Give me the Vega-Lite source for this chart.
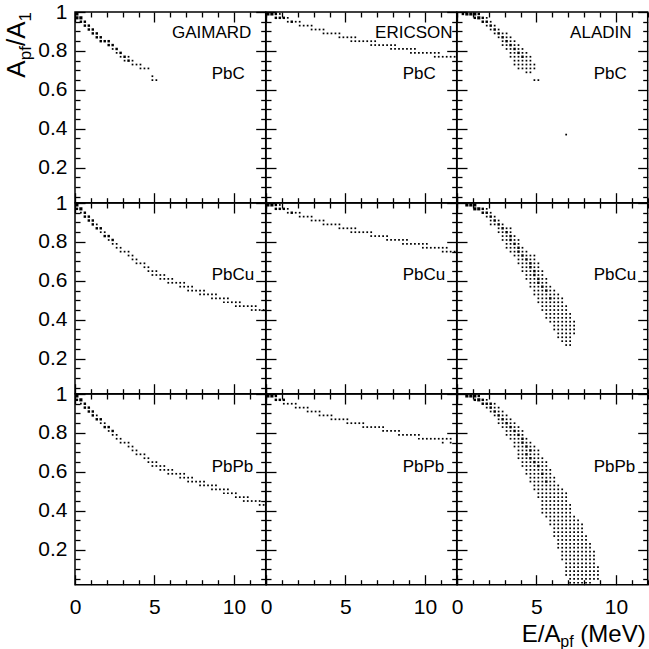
{
"$schema":"https://vega.github.io/schema/vega-lite/v6.json",
"padding":{"left":3,"top":0,"right":0,"bottom":0},
"background":"white",
"bounds":"flush",
"spacing":0,
"columns":3,
"config":{"view":{"stroke":"black","strokeWidth":1.5},"axis":{"domain":false,"grid":false,"tickColor":"black","tickWidth":1.3,"tickSize":0,"labelFont":"Liberation Sans","labelFontSize":21,"labelColor":"black","labelOverlap":false,"labelFlush":false}},
"datasets":{
"gC":[{"E":0.12,"A":0.99,"w":3},{"E":0.12,"A":0.97,"w":3},{"E":0.37,"A":0.97,"w":3},{"E":0.37,"A":0.95,"w":2},{"E":0.62,"A":0.95,"w":2},{"E":0.62,"A":0.93,"w":2},{"E":0.87,"A":0.93,"w":2},{"E":0.87,"A":0.91,"w":2},{"E":1.12,"A":0.91,"w":2},{"E":1.12,"A":0.89,"w":2},{"E":1.37,"A":0.89,"w":2},{"E":1.37,"A":0.87,"w":2},{"E":1.62,"A":0.87,"w":2},{"E":1.62,"A":0.85,"w":2},{"E":1.87,"A":0.85,"w":2},{"E":2.12,"A":0.85,"w":2},{"E":2.12,"A":0.83,"w":2},{"E":2.37,"A":0.83,"w":2},{"E":2.37,"A":0.81},{"E":2.62,"A":0.81,"w":2},{"E":2.62,"A":0.79},{"E":2.87,"A":0.79,"w":2},{"E":2.87,"A":0.77},{"E":3.12,"A":0.77,"w":2},{"E":3.12,"A":0.75},{"E":3.37,"A":0.77},{"E":3.37,"A":0.75,"w":2},{"E":3.62,"A":0.75},{"E":3.62,"A":0.73},{"E":3.87,"A":0.73},{"E":4.12,"A":0.73},{"E":4.12,"A":0.71},{"E":4.37,"A":0.71},{"E":4.62,"A":0.71},{"E":4.87,"A":0.67},{"E":4.87,"A":0.65},{"E":5.12,"A":0.65}],
"gCu":[{"E":0.12,"A":0.99,"w":3},{"E":0.12,"A":0.97,"w":2},{"E":0.37,"A":0.97,"w":3},{"E":0.37,"A":0.95},{"E":0.62,"A":0.95,"w":2},{"E":0.62,"A":0.93,"w":2},{"E":0.87,"A":0.93,"w":2},{"E":0.87,"A":0.91,"w":2},{"E":1.12,"A":0.91,"w":2},{"E":1.12,"A":0.89,"w":2},{"E":1.37,"A":0.89},{"E":1.37,"A":0.87,"w":2},{"E":1.62,"A":0.87,"w":2},{"E":1.62,"A":0.85},{"E":1.87,"A":0.85},{"E":1.87,"A":0.83,"w":2},{"E":2.12,"A":0.83,"w":2},{"E":2.12,"A":0.81},{"E":2.37,"A":0.81,"w":2},{"E":2.37,"A":0.79},{"E":2.62,"A":0.79},{"E":2.62,"A":0.77},{"E":2.87,"A":0.77},{"E":2.87,"A":0.75},{"E":3.12,"A":0.75},{"E":3.37,"A":0.75},{"E":3.37,"A":0.73},{"E":3.62,"A":0.73},{"E":3.62,"A":0.71},{"E":3.87,"A":0.71},{"E":3.87,"A":0.69},{"E":4.12,"A":0.69},{"E":4.37,"A":0.69},{"E":4.37,"A":0.67},{"E":4.62,"A":0.67},{"E":4.62,"A":0.65},{"E":4.87,"A":0.65},{"E":4.87,"A":0.63},{"E":5.12,"A":0.65},{"E":5.12,"A":0.63},{"E":5.37,"A":0.63},{"E":5.37,"A":0.61},{"E":5.62,"A":0.63},{"E":5.62,"A":0.61},{"E":5.87,"A":0.61},{"E":5.87,"A":0.59},{"E":6.12,"A":0.61},{"E":6.12,"A":0.59},{"E":6.37,"A":0.59},{"E":6.62,"A":0.59},{"E":6.62,"A":0.57},{"E":6.87,"A":0.59},{"E":6.87,"A":0.57},{"E":7.12,"A":0.57},{"E":7.12,"A":0.55},{"E":7.37,"A":0.57},{"E":7.37,"A":0.55},{"E":7.62,"A":0.55},{"E":7.87,"A":0.55},{"E":7.87,"A":0.53},{"E":8.12,"A":0.55},{"E":8.12,"A":0.53},{"E":8.37,"A":0.53},{"E":8.62,"A":0.53},{"E":8.62,"A":0.51},{"E":8.87,"A":0.53},{"E":8.87,"A":0.51},{"E":9.12,"A":0.51},{"E":9.37,"A":0.51},{"E":9.37,"A":0.49},{"E":9.62,"A":0.51},{"E":9.62,"A":0.49},{"E":9.87,"A":0.49},{"E":10.12,"A":0.49},{"E":10.12,"A":0.47},{"E":10.37,"A":0.49},{"E":10.37,"A":0.47},{"E":10.62,"A":0.47},{"E":10.87,"A":0.47},{"E":11.12,"A":0.47},{"E":11.12,"A":0.45},{"E":11.37,"A":0.47},{"E":11.37,"A":0.45},{"E":11.62,"A":0.45},{"E":11.87,"A":0.45}],
"gPb":[{"E":0.12,"A":0.99,"w":3},{"E":0.12,"A":0.97,"w":2},{"E":0.37,"A":0.97,"w":3},{"E":0.37,"A":0.95},{"E":0.62,"A":0.95,"w":2},{"E":0.62,"A":0.93,"w":2},{"E":0.87,"A":0.93,"w":2},{"E":0.87,"A":0.91,"w":2},{"E":1.12,"A":0.91,"w":2},{"E":1.12,"A":0.89,"w":2},{"E":1.37,"A":0.89},{"E":1.37,"A":0.87,"w":2},{"E":1.62,"A":0.87,"w":2},{"E":1.62,"A":0.85},{"E":1.87,"A":0.85},{"E":1.87,"A":0.83,"w":2},{"E":2.12,"A":0.83,"w":2},{"E":2.12,"A":0.81},{"E":2.37,"A":0.81,"w":2},{"E":2.37,"A":0.79},{"E":2.62,"A":0.79},{"E":2.62,"A":0.77},{"E":2.87,"A":0.77},{"E":2.87,"A":0.75},{"E":3.12,"A":0.75},{"E":3.37,"A":0.75},{"E":3.37,"A":0.73},{"E":3.62,"A":0.73},{"E":3.62,"A":0.71},{"E":3.87,"A":0.71},{"E":3.87,"A":0.69},{"E":4.12,"A":0.69},{"E":4.37,"A":0.69},{"E":4.37,"A":0.67},{"E":4.62,"A":0.67},{"E":4.62,"A":0.65},{"E":4.87,"A":0.65},{"E":4.87,"A":0.63},{"E":5.12,"A":0.65},{"E":5.12,"A":0.63},{"E":5.37,"A":0.63},{"E":5.37,"A":0.61},{"E":5.62,"A":0.63},{"E":5.62,"A":0.61},{"E":5.87,"A":0.61},{"E":5.87,"A":0.59},{"E":6.12,"A":0.61},{"E":6.12,"A":0.59},{"E":6.37,"A":0.59},{"E":6.62,"A":0.59},{"E":6.62,"A":0.57},{"E":6.87,"A":0.59},{"E":6.87,"A":0.57},{"E":7.12,"A":0.57},{"E":7.12,"A":0.55},{"E":7.37,"A":0.57},{"E":7.37,"A":0.55},{"E":7.62,"A":0.55},{"E":7.87,"A":0.55},{"E":7.87,"A":0.53},{"E":8.12,"A":0.55},{"E":8.12,"A":0.53},{"E":8.37,"A":0.53},{"E":8.62,"A":0.53},{"E":8.62,"A":0.51},{"E":8.87,"A":0.53},{"E":8.87,"A":0.51},{"E":9.12,"A":0.51},{"E":9.37,"A":0.51},{"E":9.37,"A":0.49},{"E":9.62,"A":0.51},{"E":9.62,"A":0.49},{"E":9.87,"A":0.49},{"E":10.12,"A":0.49},{"E":10.12,"A":0.47},{"E":10.37,"A":0.47},{"E":10.62,"A":0.47},{"E":10.62,"A":0.45},{"E":10.87,"A":0.47},{"E":10.87,"A":0.45},{"E":11.12,"A":0.45},{"E":11.37,"A":0.45},{"E":11.62,"A":0.45},{"E":11.62,"A":0.43},{"E":11.87,"A":0.43}],
"eC":[{"E":0.12,"A":0.99,"w":3},{"E":0.37,"A":0.99,"w":3},{"E":0.62,"A":0.99,"w":2},{"E":0.62,"A":0.97,"w":2},{"E":0.87,"A":0.99},{"E":0.87,"A":0.97,"w":2},{"E":1.12,"A":0.97,"w":2},{"E":1.37,"A":0.97},{"E":1.37,"A":0.95},{"E":1.62,"A":0.95,"w":2},{"E":1.87,"A":0.95},{"E":2.12,"A":0.95},{"E":2.12,"A":0.93},{"E":2.37,"A":0.93},{"E":2.62,"A":0.93},{"E":2.87,"A":0.93},{"E":2.87,"A":0.91},{"E":3.12,"A":0.91},{"E":3.37,"A":0.91},{"E":3.62,"A":0.91},{"E":3.62,"A":0.89},{"E":3.87,"A":0.89},{"E":4.12,"A":0.89},{"E":4.37,"A":0.89},{"E":4.62,"A":0.89},{"E":4.62,"A":0.87},{"E":4.87,"A":0.87},{"E":5.12,"A":0.87},{"E":5.37,"A":0.87},{"E":5.37,"A":0.85},{"E":5.62,"A":0.87},{"E":5.62,"A":0.85},{"E":5.87,"A":0.85},{"E":6.12,"A":0.85},{"E":6.37,"A":0.85},{"E":6.62,"A":0.85},{"E":6.62,"A":0.83},{"E":6.87,"A":0.85},{"E":6.87,"A":0.83},{"E":7.12,"A":0.83},{"E":7.37,"A":0.83},{"E":7.62,"A":0.83},{"E":7.87,"A":0.83},{"E":7.87,"A":0.81},{"E":8.12,"A":0.83},{"E":8.12,"A":0.81},{"E":8.37,"A":0.81},{"E":8.62,"A":0.81},{"E":8.87,"A":0.81},{"E":9.12,"A":0.81},{"E":9.12,"A":0.79},{"E":9.37,"A":0.81},{"E":9.37,"A":0.79},{"E":9.62,"A":0.79},{"E":9.87,"A":0.79},{"E":10.12,"A":0.79},{"E":10.37,"A":0.79},{"E":10.62,"A":0.79},{"E":10.62,"A":0.77},{"E":10.87,"A":0.79},{"E":10.87,"A":0.77},{"E":11.12,"A":0.77},{"E":11.37,"A":0.77},{"E":11.62,"A":0.77},{"E":11.87,"A":0.77}],
"eCu":[{"E":0.12,"A":0.99,"w":3},{"E":0.37,"A":0.99,"w":3},{"E":0.62,"A":0.99,"w":2},{"E":0.62,"A":0.97,"w":2},{"E":0.87,"A":0.99},{"E":0.87,"A":0.97,"w":2},{"E":1.12,"A":0.97,"w":2},{"E":1.37,"A":0.97},{"E":1.37,"A":0.95},{"E":1.62,"A":0.95,"w":2},{"E":1.87,"A":0.95},{"E":2.12,"A":0.95},{"E":2.12,"A":0.93},{"E":2.37,"A":0.93},{"E":2.62,"A":0.93},{"E":2.87,"A":0.93},{"E":2.87,"A":0.91},{"E":3.12,"A":0.91},{"E":3.37,"A":0.91},{"E":3.62,"A":0.91},{"E":3.62,"A":0.89},{"E":3.87,"A":0.89},{"E":4.12,"A":0.89},{"E":4.37,"A":0.89},{"E":4.62,"A":0.89},{"E":4.62,"A":0.87},{"E":4.87,"A":0.87},{"E":5.12,"A":0.87},{"E":5.37,"A":0.87},{"E":5.37,"A":0.85},{"E":5.62,"A":0.87},{"E":5.62,"A":0.85},{"E":5.87,"A":0.85},{"E":6.12,"A":0.85},{"E":6.37,"A":0.85},{"E":6.62,"A":0.85},{"E":6.62,"A":0.83},{"E":6.87,"A":0.83},{"E":7.12,"A":0.83},{"E":7.37,"A":0.83},{"E":7.62,"A":0.83},{"E":7.62,"A":0.81},{"E":7.87,"A":0.81},{"E":8.12,"A":0.81},{"E":8.37,"A":0.81},{"E":8.62,"A":0.81},{"E":8.62,"A":0.79},{"E":8.87,"A":0.81},{"E":8.87,"A":0.79},{"E":9.12,"A":0.79},{"E":9.37,"A":0.79},{"E":9.62,"A":0.79},{"E":9.87,"A":0.79},{"E":9.87,"A":0.77},{"E":10.12,"A":0.79},{"E":10.12,"A":0.77},{"E":10.37,"A":0.77},{"E":10.62,"A":0.77},{"E":10.87,"A":0.77},{"E":11.12,"A":0.77},{"E":11.12,"A":0.75},{"E":11.37,"A":0.77},{"E":11.37,"A":0.75},{"E":11.62,"A":0.75},{"E":11.87,"A":0.75}],
"ePb":[{"E":0.12,"A":0.99,"w":3},{"E":0.37,"A":0.99,"w":3},{"E":0.62,"A":0.99,"w":2},{"E":0.62,"A":0.97,"w":2},{"E":0.87,"A":0.97,"w":2},{"E":1.12,"A":0.97,"w":2},{"E":1.12,"A":0.95},{"E":1.37,"A":0.95},{"E":1.62,"A":0.95},{"E":1.87,"A":0.95},{"E":1.87,"A":0.93},{"E":2.12,"A":0.93},{"E":2.37,"A":0.93},{"E":2.62,"A":0.93},{"E":2.62,"A":0.91},{"E":2.87,"A":0.91},{"E":3.12,"A":0.91},{"E":3.37,"A":0.91},{"E":3.37,"A":0.89},{"E":3.62,"A":0.89},{"E":3.87,"A":0.89},{"E":4.12,"A":0.89},{"E":4.12,"A":0.87},{"E":4.37,"A":0.87},{"E":4.62,"A":0.87},{"E":4.87,"A":0.87},{"E":5.12,"A":0.87},{"E":5.12,"A":0.85},{"E":5.37,"A":0.85},{"E":5.62,"A":0.85},{"E":5.87,"A":0.85},{"E":6.12,"A":0.85},{"E":6.12,"A":0.83},{"E":6.37,"A":0.83},{"E":6.62,"A":0.83},{"E":6.87,"A":0.83},{"E":7.12,"A":0.83},{"E":7.37,"A":0.83},{"E":7.37,"A":0.81},{"E":7.62,"A":0.81},{"E":7.87,"A":0.81},{"E":8.12,"A":0.81},{"E":8.37,"A":0.81},{"E":8.37,"A":0.79},{"E":8.62,"A":0.79},{"E":8.87,"A":0.79},{"E":9.12,"A":0.79},{"E":9.37,"A":0.79},{"E":9.62,"A":0.79},{"E":9.62,"A":0.77},{"E":9.87,"A":0.77},{"E":10.12,"A":0.77},{"E":10.37,"A":0.77},{"E":10.62,"A":0.77},{"E":10.87,"A":0.77},{"E":11.12,"A":0.77},{"E":11.12,"A":0.75},{"E":11.37,"A":0.77},{"E":11.62,"A":0.77},{"E":11.62,"A":0.75}],
"aC":[{"E":0.37,"A":0.99,"w":2},{"E":0.62,"A":0.99,"w":3},{"E":0.87,"A":0.99,"w":3},{"E":1.12,"A":0.99,"w":3},{"E":1.37,"A":0.99,"w":2},{"E":1.12,"A":0.97,"w":2},{"E":1.37,"A":0.97,"w":3},{"E":1.62,"A":0.97,"w":2},{"E":1.87,"A":0.97},{"E":1.62,"A":0.95,"w":2},{"E":1.87,"A":0.95,"w":2},{"E":2.12,"A":0.95},{"E":1.87,"A":0.93},{"E":2.12,"A":0.93,"w":2},{"E":2.37,"A":0.93},{"E":2.12,"A":0.91},{"E":2.37,"A":0.91,"w":2},{"E":2.62,"A":0.91},{"E":2.37,"A":0.89},{"E":2.62,"A":0.89,"w":2},{"E":2.87,"A":0.89},{"E":3.12,"A":0.89},{"E":2.62,"A":0.87},{"E":2.87,"A":0.87,"w":2},{"E":3.12,"A":0.87},{"E":3.37,"A":0.87},{"E":2.87,"A":0.85},{"E":3.12,"A":0.85,"w":2},{"E":3.37,"A":0.85},{"E":3.62,"A":0.85},{"E":2.87,"A":0.83},{"E":3.12,"A":0.83},{"E":3.37,"A":0.83,"w":2},{"E":3.62,"A":0.83},{"E":3.87,"A":0.83},{"E":3.12,"A":0.81},{"E":3.37,"A":0.81},{"E":3.62,"A":0.81,"w":2},{"E":3.87,"A":0.81},{"E":4.12,"A":0.81},{"E":3.37,"A":0.79},{"E":3.62,"A":0.79},{"E":3.87,"A":0.79,"w":2},{"E":4.12,"A":0.79},{"E":4.37,"A":0.79},{"E":3.37,"A":0.77},{"E":3.62,"A":0.77},{"E":3.87,"A":0.77},{"E":4.12,"A":0.77,"w":2},{"E":4.37,"A":0.77},{"E":4.62,"A":0.77},{"E":3.62,"A":0.75},{"E":3.87,"A":0.75},{"E":4.12,"A":0.75},{"E":4.37,"A":0.75},{"E":4.62,"A":0.75},{"E":3.62,"A":0.73},{"E":3.87,"A":0.73},{"E":4.12,"A":0.73},{"E":4.37,"A":0.73},{"E":4.62,"A":0.73},{"E":4.87,"A":0.73},{"E":3.87,"A":0.71},{"E":4.12,"A":0.71},{"E":4.37,"A":0.71},{"E":4.62,"A":0.71},{"E":4.87,"A":0.71},{"E":4.37,"A":0.69},{"E":4.62,"A":0.69},{"E":4.87,"A":0.65},{"E":5.12,"A":0.65},{"E":6.87,"A":0.37}],
"aCu":[{"E":0.62,"A":0.99,"w":3},{"E":0.87,"A":0.99,"w":3},{"E":1.12,"A":0.99,"w":3},{"E":1.12,"A":0.97,"w":3},{"E":1.37,"A":0.97,"w":3},{"E":1.62,"A":0.97,"w":2},{"E":1.87,"A":0.97},{"E":1.62,"A":0.95,"w":2},{"E":1.87,"A":0.95,"w":2},{"E":2.12,"A":0.95},{"E":1.87,"A":0.93},{"E":2.12,"A":0.93,"w":2},{"E":2.37,"A":0.93},{"E":2.12,"A":0.91},{"E":2.37,"A":0.91,"w":2},{"E":2.62,"A":0.91},{"E":2.12,"A":0.89},{"E":2.37,"A":0.89},{"E":2.62,"A":0.89,"w":2},{"E":2.87,"A":0.89},{"E":2.62,"A":0.87},{"E":2.87,"A":0.87,"w":2},{"E":3.12,"A":0.87},{"E":3.37,"A":0.87},{"E":2.62,"A":0.85},{"E":2.87,"A":0.85},{"E":3.12,"A":0.85,"w":2},{"E":3.37,"A":0.85},{"E":2.87,"A":0.83},{"E":3.12,"A":0.83},{"E":3.37,"A":0.83,"w":2},{"E":3.62,"A":0.83},{"E":2.87,"A":0.81},{"E":3.12,"A":0.81},{"E":3.37,"A":0.81,"w":2},{"E":3.62,"A":0.81},{"E":3.87,"A":0.81},{"E":3.12,"A":0.79},{"E":3.37,"A":0.79},{"E":3.62,"A":0.79,"w":2},{"E":3.87,"A":0.79},{"E":3.12,"A":0.77},{"E":3.37,"A":0.77},{"E":3.62,"A":0.77},{"E":3.87,"A":0.77,"w":2},{"E":4.12,"A":0.77},{"E":3.37,"A":0.75},{"E":3.62,"A":0.75},{"E":3.87,"A":0.75,"w":2},{"E":4.12,"A":0.75},{"E":4.37,"A":0.75},{"E":3.62,"A":0.73},{"E":3.87,"A":0.73},{"E":4.12,"A":0.73,"w":2},{"E":4.37,"A":0.73},{"E":4.62,"A":0.73},{"E":4.87,"A":0.73},{"E":3.87,"A":0.71},{"E":4.12,"A":0.71},{"E":4.37,"A":0.71,"w":2},{"E":4.62,"A":0.71},{"E":4.87,"A":0.71},{"E":3.87,"A":0.69},{"E":4.12,"A":0.69},{"E":4.37,"A":0.69},{"E":4.62,"A":0.69,"w":2},{"E":4.87,"A":0.69},{"E":5.12,"A":0.69},{"E":4.12,"A":0.67},{"E":4.37,"A":0.67},{"E":4.62,"A":0.67,"w":2},{"E":4.87,"A":0.67},{"E":5.12,"A":0.67},{"E":4.12,"A":0.65},{"E":4.37,"A":0.65},{"E":4.62,"A":0.65},{"E":4.87,"A":0.65,"w":2},{"E":5.12,"A":0.65},{"E":5.37,"A":0.65},{"E":4.37,"A":0.63},{"E":4.62,"A":0.63},{"E":4.87,"A":0.63,"w":2},{"E":5.12,"A":0.63},{"E":5.37,"A":0.63},{"E":4.37,"A":0.61},{"E":4.62,"A":0.61},{"E":4.87,"A":0.61},{"E":5.12,"A":0.61,"w":2},{"E":5.37,"A":0.61},{"E":5.62,"A":0.61},{"E":4.62,"A":0.59},{"E":4.87,"A":0.59},{"E":5.12,"A":0.59,"w":2},{"E":5.37,"A":0.59},{"E":5.62,"A":0.59},{"E":4.62,"A":0.57},{"E":4.87,"A":0.57},{"E":5.12,"A":0.57},{"E":5.37,"A":0.57,"w":2},{"E":5.62,"A":0.57},{"E":5.87,"A":0.57},{"E":4.87,"A":0.55},{"E":5.12,"A":0.55},{"E":5.37,"A":0.55},{"E":5.62,"A":0.55,"w":2},{"E":5.87,"A":0.55},{"E":6.12,"A":0.55},{"E":4.87,"A":0.53},{"E":5.12,"A":0.53},{"E":5.37,"A":0.53},{"E":5.62,"A":0.53},{"E":5.87,"A":0.53},{"E":6.12,"A":0.53},{"E":6.37,"A":0.53},{"E":5.12,"A":0.51},{"E":5.37,"A":0.51},{"E":5.62,"A":0.51},{"E":5.87,"A":0.51,"w":2},{"E":6.12,"A":0.51},{"E":6.37,"A":0.51},{"E":6.62,"A":0.51},{"E":5.12,"A":0.49},{"E":5.37,"A":0.49},{"E":5.62,"A":0.49},{"E":5.87,"A":0.49},{"E":6.12,"A":0.49},{"E":6.37,"A":0.49},{"E":6.62,"A":0.49},{"E":5.37,"A":0.47},{"E":5.62,"A":0.47},{"E":5.87,"A":0.47},{"E":6.12,"A":0.47},{"E":6.37,"A":0.47},{"E":6.62,"A":0.47},{"E":6.87,"A":0.47},{"E":5.37,"A":0.45},{"E":5.62,"A":0.45},{"E":5.87,"A":0.45},{"E":6.12,"A":0.45},{"E":6.37,"A":0.45},{"E":6.62,"A":0.45},{"E":6.87,"A":0.45},{"E":5.62,"A":0.43},{"E":5.87,"A":0.43},{"E":6.12,"A":0.43},{"E":6.37,"A":0.43},{"E":6.62,"A":0.43},{"E":6.87,"A":0.43},{"E":7.12,"A":0.43},{"E":5.62,"A":0.41},{"E":5.87,"A":0.41},{"E":6.12,"A":0.41},{"E":6.37,"A":0.41},{"E":6.62,"A":0.41},{"E":6.87,"A":0.41},{"E":7.12,"A":0.41},{"E":5.87,"A":0.39},{"E":6.12,"A":0.39},{"E":6.37,"A":0.39},{"E":6.62,"A":0.39},{"E":6.87,"A":0.39},{"E":7.12,"A":0.39},{"E":7.37,"A":0.39},{"E":6.12,"A":0.37},{"E":6.37,"A":0.37},{"E":6.62,"A":0.37},{"E":6.87,"A":0.37},{"E":7.12,"A":0.37},{"E":7.37,"A":0.37},{"E":6.12,"A":0.35},{"E":6.37,"A":0.35},{"E":6.62,"A":0.35},{"E":6.87,"A":0.35},{"E":7.12,"A":0.35},{"E":7.37,"A":0.35},{"E":6.37,"A":0.33},{"E":6.62,"A":0.33},{"E":6.87,"A":0.33},{"E":7.12,"A":0.33},{"E":7.37,"A":0.33},{"E":6.37,"A":0.31},{"E":6.62,"A":0.31},{"E":6.87,"A":0.31},{"E":7.12,"A":0.31},{"E":6.62,"A":0.29},{"E":6.87,"A":0.29},{"E":7.12,"A":0.29},{"E":6.87,"A":0.27},{"E":7.12,"A":0.27}],
"aPb":[{"E":0.62,"A":0.99,"w":3},{"E":0.87,"A":0.99,"w":3},{"E":1.12,"A":0.99,"w":3},{"E":1.37,"A":0.99,"w":2},{"E":1.12,"A":0.97,"w":2},{"E":1.37,"A":0.97,"w":3},{"E":1.62,"A":0.97,"w":2},{"E":1.87,"A":0.97},{"E":1.62,"A":0.95,"w":2},{"E":1.87,"A":0.95,"w":2},{"E":2.12,"A":0.95,"w":2},{"E":2.37,"A":0.95},{"E":1.87,"A":0.93},{"E":2.12,"A":0.93,"w":2},{"E":2.37,"A":0.93},{"E":2.62,"A":0.93},{"E":2.12,"A":0.91},{"E":2.37,"A":0.91,"w":2},{"E":2.62,"A":0.91},{"E":2.87,"A":0.91},{"E":2.37,"A":0.89},{"E":2.62,"A":0.89,"w":2},{"E":2.87,"A":0.89},{"E":3.12,"A":0.89},{"E":2.62,"A":0.87},{"E":2.87,"A":0.87,"w":2},{"E":3.12,"A":0.87},{"E":3.37,"A":0.87},{"E":2.62,"A":0.85},{"E":2.87,"A":0.85},{"E":3.12,"A":0.85,"w":2},{"E":3.37,"A":0.85},{"E":3.62,"A":0.85},{"E":2.87,"A":0.83},{"E":3.12,"A":0.83},{"E":3.37,"A":0.83,"w":2},{"E":3.62,"A":0.83},{"E":3.87,"A":0.83},{"E":3.12,"A":0.81},{"E":3.37,"A":0.81},{"E":3.62,"A":0.81,"w":2},{"E":3.87,"A":0.81},{"E":4.12,"A":0.81},{"E":3.12,"A":0.79},{"E":3.37,"A":0.79},{"E":3.62,"A":0.79},{"E":3.87,"A":0.79,"w":2},{"E":4.12,"A":0.79},{"E":3.37,"A":0.77},{"E":3.62,"A":0.77},{"E":3.87,"A":0.77},{"E":4.12,"A":0.77,"w":2},{"E":4.37,"A":0.77},{"E":3.62,"A":0.75},{"E":3.87,"A":0.75},{"E":4.12,"A":0.75,"w":2},{"E":4.37,"A":0.75},{"E":4.62,"A":0.75},{"E":3.62,"A":0.73},{"E":3.87,"A":0.73},{"E":4.12,"A":0.73},{"E":4.37,"A":0.73,"w":2},{"E":4.62,"A":0.73},{"E":4.87,"A":0.73},{"E":3.87,"A":0.71},{"E":4.12,"A":0.71},{"E":4.37,"A":0.71},{"E":4.62,"A":0.71,"w":2},{"E":4.87,"A":0.71},{"E":5.12,"A":0.71},{"E":3.87,"A":0.69},{"E":4.12,"A":0.69},{"E":4.37,"A":0.69,"w":2},{"E":4.62,"A":0.69},{"E":4.87,"A":0.69},{"E":5.12,"A":0.69},{"E":3.87,"A":0.67},{"E":4.12,"A":0.67},{"E":4.37,"A":0.67},{"E":4.62,"A":0.67,"w":2},{"E":4.87,"A":0.67},{"E":5.12,"A":0.67},{"E":5.37,"A":0.67},{"E":4.12,"A":0.65},{"E":4.37,"A":0.65},{"E":4.62,"A":0.65},{"E":4.87,"A":0.65,"w":2},{"E":5.12,"A":0.65},{"E":5.37,"A":0.65},{"E":5.62,"A":0.65},{"E":4.12,"A":0.63},{"E":4.37,"A":0.63},{"E":4.62,"A":0.63},{"E":4.87,"A":0.63},{"E":5.12,"A":0.63,"w":2},{"E":5.37,"A":0.63},{"E":5.62,"A":0.63},{"E":4.37,"A":0.61},{"E":4.62,"A":0.61},{"E":4.87,"A":0.61},{"E":5.12,"A":0.61},{"E":5.37,"A":0.61},{"E":5.62,"A":0.61},{"E":5.87,"A":0.61},{"E":4.37,"A":0.59},{"E":4.62,"A":0.59},{"E":4.87,"A":0.59},{"E":5.12,"A":0.59},{"E":5.37,"A":0.59,"w":2},{"E":5.62,"A":0.59},{"E":5.87,"A":0.59},{"E":4.62,"A":0.57},{"E":4.87,"A":0.57},{"E":5.12,"A":0.57},{"E":5.37,"A":0.57},{"E":5.62,"A":0.57},{"E":5.87,"A":0.57},{"E":6.12,"A":0.57},{"E":4.62,"A":0.55},{"E":4.87,"A":0.55},{"E":5.12,"A":0.55},{"E":5.37,"A":0.55},{"E":5.62,"A":0.55,"w":2},{"E":5.87,"A":0.55},{"E":6.12,"A":0.55},{"E":4.87,"A":0.53},{"E":5.12,"A":0.53},{"E":5.37,"A":0.53},{"E":5.62,"A":0.53},{"E":5.87,"A":0.53},{"E":6.12,"A":0.53},{"E":6.37,"A":0.53},{"E":4.87,"A":0.51},{"E":5.12,"A":0.51},{"E":5.37,"A":0.51},{"E":5.62,"A":0.51},{"E":5.87,"A":0.51},{"E":6.12,"A":0.51},{"E":6.37,"A":0.51},{"E":6.62,"A":0.51},{"E":5.12,"A":0.49},{"E":5.37,"A":0.49},{"E":5.62,"A":0.49},{"E":5.87,"A":0.49},{"E":6.12,"A":0.49},{"E":6.37,"A":0.49},{"E":6.62,"A":0.49},{"E":6.87,"A":0.49},{"E":5.12,"A":0.47},{"E":5.37,"A":0.47},{"E":5.62,"A":0.47},{"E":5.87,"A":0.47},{"E":6.12,"A":0.47},{"E":6.37,"A":0.47},{"E":6.62,"A":0.47},{"E":6.87,"A":0.47},{"E":5.37,"A":0.45},{"E":5.62,"A":0.45},{"E":5.87,"A":0.45},{"E":6.12,"A":0.45},{"E":6.37,"A":0.45},{"E":6.62,"A":0.45},{"E":6.87,"A":0.45},{"E":5.37,"A":0.43},{"E":5.62,"A":0.43},{"E":5.87,"A":0.43},{"E":6.12,"A":0.43},{"E":6.37,"A":0.43},{"E":6.62,"A":0.43},{"E":6.87,"A":0.43},{"E":7.12,"A":0.43},{"E":5.37,"A":0.41},{"E":5.62,"A":0.41},{"E":5.87,"A":0.41},{"E":6.12,"A":0.41},{"E":6.37,"A":0.41},{"E":6.62,"A":0.41},{"E":6.87,"A":0.41},{"E":7.12,"A":0.41},{"E":5.37,"A":0.39},{"E":5.62,"A":0.39},{"E":5.87,"A":0.39},{"E":6.12,"A":0.39},{"E":6.37,"A":0.39},{"E":6.62,"A":0.39},{"E":6.87,"A":0.39},{"E":7.12,"A":0.39},{"E":5.62,"A":0.37},{"E":5.87,"A":0.37},{"E":6.12,"A":0.37},{"E":6.37,"A":0.37},{"E":6.62,"A":0.37},{"E":6.87,"A":0.37},{"E":7.12,"A":0.37},{"E":7.37,"A":0.37},{"E":5.87,"A":0.35},{"E":6.12,"A":0.35},{"E":6.37,"A":0.35},{"E":6.62,"A":0.35},{"E":6.87,"A":0.35},{"E":7.12,"A":0.35},{"E":7.37,"A":0.35},{"E":7.62,"A":0.35},{"E":5.87,"A":0.33},{"E":6.12,"A":0.33},{"E":6.37,"A":0.33},{"E":6.62,"A":0.33},{"E":6.87,"A":0.33},{"E":7.12,"A":0.33},{"E":7.37,"A":0.33},{"E":7.62,"A":0.33},{"E":7.87,"A":0.33},{"E":6.12,"A":0.31},{"E":6.37,"A":0.31},{"E":6.62,"A":0.31},{"E":6.87,"A":0.31},{"E":7.12,"A":0.31},{"E":7.37,"A":0.31},{"E":7.62,"A":0.31},{"E":7.87,"A":0.31},{"E":6.12,"A":0.29},{"E":6.37,"A":0.29},{"E":6.62,"A":0.29},{"E":6.87,"A":0.29},{"E":7.12,"A":0.29},{"E":7.37,"A":0.29},{"E":7.62,"A":0.29},{"E":7.87,"A":0.29},{"E":6.12,"A":0.27},{"E":6.37,"A":0.27},{"E":6.62,"A":0.27},{"E":6.87,"A":0.27},{"E":7.12,"A":0.27},{"E":7.37,"A":0.27},{"E":7.62,"A":0.27},{"E":7.87,"A":0.27},{"E":8.12,"A":0.27},{"E":6.37,"A":0.25},{"E":6.62,"A":0.25},{"E":6.87,"A":0.25},{"E":7.12,"A":0.25},{"E":7.37,"A":0.25},{"E":7.62,"A":0.25},{"E":7.87,"A":0.25},{"E":8.12,"A":0.25},{"E":6.37,"A":0.23},{"E":6.62,"A":0.23},{"E":6.87,"A":0.23},{"E":7.12,"A":0.23},{"E":7.37,"A":0.23},{"E":7.62,"A":0.23},{"E":7.87,"A":0.23},{"E":8.12,"A":0.23},{"E":8.37,"A":0.23},{"E":6.37,"A":0.21},{"E":6.62,"A":0.21},{"E":6.87,"A":0.21},{"E":7.12,"A":0.21},{"E":7.37,"A":0.21},{"E":7.62,"A":0.21},{"E":7.87,"A":0.21},{"E":8.12,"A":0.21},{"E":8.37,"A":0.21},{"E":6.62,"A":0.19},{"E":6.87,"A":0.19},{"E":7.12,"A":0.19},{"E":7.37,"A":0.19},{"E":7.62,"A":0.19},{"E":7.87,"A":0.19},{"E":8.12,"A":0.19},{"E":8.37,"A":0.19},{"E":8.62,"A":0.19},{"E":6.62,"A":0.17},{"E":6.87,"A":0.17},{"E":7.12,"A":0.17},{"E":7.37,"A":0.17},{"E":7.62,"A":0.17},{"E":7.87,"A":0.17},{"E":8.12,"A":0.17},{"E":8.37,"A":0.17},{"E":8.62,"A":0.17},{"E":6.62,"A":0.15},{"E":6.87,"A":0.15},{"E":7.12,"A":0.15},{"E":7.37,"A":0.15},{"E":7.62,"A":0.15},{"E":7.87,"A":0.15},{"E":8.12,"A":0.15},{"E":8.37,"A":0.15},{"E":8.62,"A":0.15},{"E":6.87,"A":0.13},{"E":7.12,"A":0.13},{"E":7.37,"A":0.13},{"E":7.62,"A":0.13},{"E":7.87,"A":0.13},{"E":8.12,"A":0.13},{"E":8.37,"A":0.13},{"E":8.62,"A":0.13},{"E":6.87,"A":0.11},{"E":7.12,"A":0.11},{"E":7.37,"A":0.11},{"E":7.62,"A":0.11},{"E":7.87,"A":0.11},{"E":8.12,"A":0.11},{"E":8.37,"A":0.11},{"E":8.62,"A":0.11},{"E":8.87,"A":0.11},{"E":6.87,"A":0.09},{"E":7.12,"A":0.09},{"E":7.37,"A":0.09},{"E":7.62,"A":0.09},{"E":7.87,"A":0.09},{"E":8.12,"A":0.09},{"E":8.37,"A":0.09},{"E":8.62,"A":0.09},{"E":8.87,"A":0.09},{"E":6.87,"A":0.07},{"E":7.12,"A":0.07},{"E":7.37,"A":0.07},{"E":7.62,"A":0.07},{"E":7.87,"A":0.07},{"E":8.12,"A":0.07},{"E":8.37,"A":0.07},{"E":8.62,"A":0.07},{"E":8.87,"A":0.07},{"E":7.12,"A":0.05},{"E":7.37,"A":0.05},{"E":7.62,"A":0.05},{"E":7.87,"A":0.05},{"E":8.12,"A":0.05},{"E":8.37,"A":0.05},{"E":8.62,"A":0.05},{"E":8.87,"A":0.05},{"E":7.12,"A":0.03},{"E":7.37,"A":0.03},{"E":7.62,"A":0.03},{"E":7.87,"A":0.03},{"E":8.12,"A":0.03},{"E":8.37,"A":0.03}]
},
"concat":[
{"width":190.7,"height":190.7,"data":{"name":"gC"},"resolve":{"axis":{"x":"independent","y":"independent"}},"layer":[
{"mark":{"type":"square","color":"black","opacity":1},"encoding":{"x":{"field":"E","type":"quantitative","scale":{"domain":[0,12],"nice":false,"zero":false},"axis":{"title":null,"values":[0,1,2,3,4,5,6,7,8,9,10,11,12],"labels":false,"encoding":{"ticks":{"y2":{"condition":{"test":"datum.value%5==0","value":-10},"value":-5}}}}},"y":{"field":"A","type":"quantitative","scale":{"domain":[0.02,1],"nice":false,"zero":false},"axis":{"title":null,"values":[0.05,0.1,0.15,0.2,0.25,0.3,0.35,0.4,0.45,0.5,0.55,0.6,0.65,0.7,0.75,0.8,0.85,0.9,0.95,1],"labelExpr":"abs(datum.value*5-round(datum.value*5))<0.01?format(datum.value,'~g'):''","labelPadding":8,"encoding":{"ticks":{"x2":{"condition":{"test":"abs(datum.value*5-round(datum.value*5))<0.01","value":10},"value":5}}}}},"size":{"condition":[{"test":"datum.w==3","value":10},{"test":"datum.w==2","value":6}],"value":3}}},
{"mark":{"type":"square","opacity":0},"encoding":{"x":{"field":"E","type":"quantitative","axis":{"orient":"top","title":null,"values":[0,1,2,3,4,5,6,7,8,9,10,11,12],"labels":false,"encoding":{"ticks":{"y2":{"condition":{"test":"datum.value%5==0","value":10},"value":5}}}}},"y":{"field":"A","type":"quantitative","axis":{"orient":"right","title":null,"values":[0.05,0.1,0.15,0.2,0.25,0.3,0.35,0.4,0.45,0.5,0.55,0.6,0.65,0.7,0.75,0.8,0.85,0.9,0.95,1],"labels":false,"encoding":{"ticks":{"x2":{"condition":{"test":"abs(datum.value*5-round(datum.value*5))<0.01","value":-10},"value":-5}}}}}}},
{"data":{"values":[{}]},"mark":{"type":"text","font":"Liberation Sans","fontSize":17,"align":"center","baseline":"middle","color":"black"},"encoding":{"x":{"datum":8.6,"axis":null},"y":{"datum":0.894,"axis":null},"text":{"value":"GAIMARD"}}},
{"data":{"values":[{}]},"mark":{"type":"text","font":"Liberation Sans","fontSize":17,"align":"left","baseline":"middle","color":"black"},"encoding":{"x":{"datum":8.6,"axis":null},"y":{"datum":0.68,"axis":null},"text":{"value":"PbC"}}},
{"data":{"values":[{}]},"mark":{"type":"text","font":"Liberation Sans","fontSize":26,"angle":270,"align":"right","baseline":"alphabetic","dx":-48.3,"dy":-49.7,"color":"black"},"encoding":{"x":{"datum":0,"axis":null},"y":{"datum":1,"axis":null},"text":{"value":"A"}}},
{"data":{"values":[{}]},"mark":{"type":"text","font":"Liberation Sans","fontSize":17,"angle":270,"align":"right","baseline":"alphabetic","dx":-34.1,"dy":-43.7,"color":"black"},"encoding":{"x":{"datum":0,"axis":null},"y":{"datum":1,"axis":null},"text":{"value":"pf"}}},
{"data":{"values":[{}]},"mark":{"type":"text","font":"Liberation Sans","fontSize":26,"angle":270,"align":"right","baseline":"alphabetic","dx":-9.5,"dy":-49.7,"color":"black"},"encoding":{"x":{"datum":0,"axis":null},"y":{"datum":1,"axis":null},"text":{"value":"/A"}}},
{"data":{"values":[{}]},"mark":{"type":"text","font":"Liberation Sans","fontSize":17,"angle":270,"align":"right","baseline":"alphabetic","dx":0,"dy":-43.7,"color":"black"},"encoding":{"x":{"datum":0,"axis":null},"y":{"datum":1,"axis":null},"text":{"value":"1"}}}
]},
{"width":190.7,"height":190.7,"data":{"name":"eC"},"resolve":{"axis":{"x":"independent","y":"independent"}},"layer":[
{"mark":{"type":"square","color":"black","opacity":1},"encoding":{"x":{"field":"E","type":"quantitative","scale":{"domain":[0,12],"nice":false,"zero":false},"axis":{"title":null,"values":[0,1,2,3,4,5,6,7,8,9,10,11,12],"labels":false,"encoding":{"ticks":{"y2":{"condition":{"test":"datum.value%5==0","value":-10},"value":-5}}}}},"y":{"field":"A","type":"quantitative","scale":{"domain":[0.02,1],"nice":false,"zero":false},"axis":{"title":null,"values":[0.05,0.1,0.15,0.2,0.25,0.3,0.35,0.4,0.45,0.5,0.55,0.6,0.65,0.7,0.75,0.8,0.85,0.9,0.95,1],"labels":false,"encoding":{"ticks":{"x2":{"condition":{"test":"abs(datum.value*5-round(datum.value*5))<0.01","value":10},"value":5}}}}},"size":{"condition":[{"test":"datum.w==3","value":10},{"test":"datum.w==2","value":6}],"value":3}}},
{"mark":{"type":"square","opacity":0},"encoding":{"x":{"field":"E","type":"quantitative","axis":{"orient":"top","title":null,"values":[0,1,2,3,4,5,6,7,8,9,10,11,12],"labels":false,"encoding":{"ticks":{"y2":{"condition":{"test":"datum.value%5==0","value":10},"value":5}}}}},"y":{"field":"A","type":"quantitative","axis":{"orient":"right","title":null,"values":[0.05,0.1,0.15,0.2,0.25,0.3,0.35,0.4,0.45,0.5,0.55,0.6,0.65,0.7,0.75,0.8,0.85,0.9,0.95,1],"labels":false,"encoding":{"ticks":{"x2":{"condition":{"test":"abs(datum.value*5-round(datum.value*5))<0.01","value":-10},"value":-5}}}}}}},
{"data":{"values":[{}]},"mark":{"type":"text","font":"Liberation Sans","fontSize":17,"align":"center","baseline":"middle","color":"black"},"encoding":{"x":{"datum":9.3,"axis":null},"y":{"datum":0.894,"axis":null},"text":{"value":"ERICSON"}}},
{"data":{"values":[{}]},"mark":{"type":"text","font":"Liberation Sans","fontSize":17,"align":"left","baseline":"middle","color":"black"},"encoding":{"x":{"datum":8.6,"axis":null},"y":{"datum":0.68,"axis":null},"text":{"value":"PbC"}}}
]},
{"width":190.7,"height":190.7,"data":{"name":"aC"},"resolve":{"axis":{"x":"independent","y":"independent"}},"layer":[
{"mark":{"type":"square","color":"black","opacity":1},"encoding":{"x":{"field":"E","type":"quantitative","scale":{"domain":[0,12],"nice":false,"zero":false},"axis":{"title":null,"values":[0,1,2,3,4,5,6,7,8,9,10,11,12],"labels":false,"encoding":{"ticks":{"y2":{"condition":{"test":"datum.value%5==0","value":-10},"value":-5}}}}},"y":{"field":"A","type":"quantitative","scale":{"domain":[0.02,1],"nice":false,"zero":false},"axis":{"title":null,"values":[0.05,0.1,0.15,0.2,0.25,0.3,0.35,0.4,0.45,0.5,0.55,0.6,0.65,0.7,0.75,0.8,0.85,0.9,0.95,1],"labels":false,"encoding":{"ticks":{"x2":{"condition":{"test":"abs(datum.value*5-round(datum.value*5))<0.01","value":10},"value":5}}}}},"size":{"condition":[{"test":"datum.w==3","value":10},{"test":"datum.w==2","value":6}],"value":3}}},
{"mark":{"type":"square","opacity":0},"encoding":{"x":{"field":"E","type":"quantitative","axis":{"orient":"top","title":null,"values":[0,1,2,3,4,5,6,7,8,9,10,11,12],"labels":false,"encoding":{"ticks":{"y2":{"condition":{"test":"datum.value%5==0","value":10},"value":5}}}}},"y":{"field":"A","type":"quantitative","axis":{"orient":"right","title":null,"values":[0.05,0.1,0.15,0.2,0.25,0.3,0.35,0.4,0.45,0.5,0.55,0.6,0.65,0.7,0.75,0.8,0.85,0.9,0.95,1],"labels":false,"encoding":{"ticks":{"x2":{"condition":{"test":"abs(datum.value*5-round(datum.value*5))<0.01","value":-10},"value":-5}}}}}}},
{"data":{"values":[{}]},"mark":{"type":"text","font":"Liberation Sans","fontSize":17,"align":"center","baseline":"middle","color":"black"},"encoding":{"x":{"datum":9.05,"axis":null},"y":{"datum":0.894,"axis":null},"text":{"value":"ALADIN"}}},
{"data":{"values":[{}]},"mark":{"type":"text","font":"Liberation Sans","fontSize":17,"align":"left","baseline":"middle","color":"black"},"encoding":{"x":{"datum":8.6,"axis":null},"y":{"datum":0.68,"axis":null},"text":{"value":"PbC"}}}
]},
{"width":190.7,"height":190.7,"data":{"name":"gCu"},"resolve":{"axis":{"x":"independent","y":"independent"}},"layer":[
{"mark":{"type":"square","color":"black","opacity":1},"encoding":{"x":{"field":"E","type":"quantitative","scale":{"domain":[0,12],"nice":false,"zero":false},"axis":{"title":null,"values":[0,1,2,3,4,5,6,7,8,9,10,11,12],"labels":false,"encoding":{"ticks":{"y2":{"condition":{"test":"datum.value%5==0","value":-10},"value":-5}}}}},"y":{"field":"A","type":"quantitative","scale":{"domain":[0.02,1],"nice":false,"zero":false},"axis":{"title":null,"values":[0.05,0.1,0.15,0.2,0.25,0.3,0.35,0.4,0.45,0.5,0.55,0.6,0.65,0.7,0.75,0.8,0.85,0.9,0.95,1],"labelExpr":"abs(datum.value*5-round(datum.value*5))<0.01?format(datum.value,'~g'):''","labelPadding":8,"encoding":{"ticks":{"x2":{"condition":{"test":"abs(datum.value*5-round(datum.value*5))<0.01","value":10},"value":5}}}}},"size":{"condition":[{"test":"datum.w==3","value":10},{"test":"datum.w==2","value":6}],"value":3}}},
{"mark":{"type":"square","opacity":0},"encoding":{"x":{"field":"E","type":"quantitative","axis":{"orient":"top","title":null,"values":[0,1,2,3,4,5,6,7,8,9,10,11,12],"labels":false,"encoding":{"ticks":{"y2":{"condition":{"test":"datum.value%5==0","value":10},"value":5}}}}},"y":{"field":"A","type":"quantitative","axis":{"orient":"right","title":null,"values":[0.05,0.1,0.15,0.2,0.25,0.3,0.35,0.4,0.45,0.5,0.55,0.6,0.65,0.7,0.75,0.8,0.85,0.9,0.95,1],"labels":false,"encoding":{"ticks":{"x2":{"condition":{"test":"abs(datum.value*5-round(datum.value*5))<0.01","value":-10},"value":-5}}}}}}},
{"data":{"values":[{}]},"mark":{"type":"text","font":"Liberation Sans","fontSize":17,"align":"left","baseline":"middle","color":"black"},"encoding":{"x":{"datum":8.6,"axis":null},"y":{"datum":0.632,"axis":null},"text":{"value":"PbCu"}}}
]},
{"width":190.7,"height":190.7,"data":{"name":"eCu"},"resolve":{"axis":{"x":"independent","y":"independent"}},"layer":[
{"mark":{"type":"square","color":"black","opacity":1},"encoding":{"x":{"field":"E","type":"quantitative","scale":{"domain":[0,12],"nice":false,"zero":false},"axis":{"title":null,"values":[0,1,2,3,4,5,6,7,8,9,10,11,12],"labels":false,"encoding":{"ticks":{"y2":{"condition":{"test":"datum.value%5==0","value":-10},"value":-5}}}}},"y":{"field":"A","type":"quantitative","scale":{"domain":[0.02,1],"nice":false,"zero":false},"axis":{"title":null,"values":[0.05,0.1,0.15,0.2,0.25,0.3,0.35,0.4,0.45,0.5,0.55,0.6,0.65,0.7,0.75,0.8,0.85,0.9,0.95,1],"labels":false,"encoding":{"ticks":{"x2":{"condition":{"test":"abs(datum.value*5-round(datum.value*5))<0.01","value":10},"value":5}}}}},"size":{"condition":[{"test":"datum.w==3","value":10},{"test":"datum.w==2","value":6}],"value":3}}},
{"mark":{"type":"square","opacity":0},"encoding":{"x":{"field":"E","type":"quantitative","axis":{"orient":"top","title":null,"values":[0,1,2,3,4,5,6,7,8,9,10,11,12],"labels":false,"encoding":{"ticks":{"y2":{"condition":{"test":"datum.value%5==0","value":10},"value":5}}}}},"y":{"field":"A","type":"quantitative","axis":{"orient":"right","title":null,"values":[0.05,0.1,0.15,0.2,0.25,0.3,0.35,0.4,0.45,0.5,0.55,0.6,0.65,0.7,0.75,0.8,0.85,0.9,0.95,1],"labels":false,"encoding":{"ticks":{"x2":{"condition":{"test":"abs(datum.value*5-round(datum.value*5))<0.01","value":-10},"value":-5}}}}}}},
{"data":{"values":[{}]},"mark":{"type":"text","font":"Liberation Sans","fontSize":17,"align":"left","baseline":"middle","color":"black"},"encoding":{"x":{"datum":8.6,"axis":null},"y":{"datum":0.632,"axis":null},"text":{"value":"PbCu"}}}
]},
{"width":190.7,"height":190.7,"data":{"name":"aCu"},"resolve":{"axis":{"x":"independent","y":"independent"}},"layer":[
{"mark":{"type":"square","color":"black","opacity":1},"encoding":{"x":{"field":"E","type":"quantitative","scale":{"domain":[0,12],"nice":false,"zero":false},"axis":{"title":null,"values":[0,1,2,3,4,5,6,7,8,9,10,11,12],"labels":false,"encoding":{"ticks":{"y2":{"condition":{"test":"datum.value%5==0","value":-10},"value":-5}}}}},"y":{"field":"A","type":"quantitative","scale":{"domain":[0.02,1],"nice":false,"zero":false},"axis":{"title":null,"values":[0.05,0.1,0.15,0.2,0.25,0.3,0.35,0.4,0.45,0.5,0.55,0.6,0.65,0.7,0.75,0.8,0.85,0.9,0.95,1],"labels":false,"encoding":{"ticks":{"x2":{"condition":{"test":"abs(datum.value*5-round(datum.value*5))<0.01","value":10},"value":5}}}}},"size":{"condition":[{"test":"datum.w==3","value":10},{"test":"datum.w==2","value":6}],"value":3}}},
{"mark":{"type":"square","opacity":0},"encoding":{"x":{"field":"E","type":"quantitative","axis":{"orient":"top","title":null,"values":[0,1,2,3,4,5,6,7,8,9,10,11,12],"labels":false,"encoding":{"ticks":{"y2":{"condition":{"test":"datum.value%5==0","value":10},"value":5}}}}},"y":{"field":"A","type":"quantitative","axis":{"orient":"right","title":null,"values":[0.05,0.1,0.15,0.2,0.25,0.3,0.35,0.4,0.45,0.5,0.55,0.6,0.65,0.7,0.75,0.8,0.85,0.9,0.95,1],"labels":false,"encoding":{"ticks":{"x2":{"condition":{"test":"abs(datum.value*5-round(datum.value*5))<0.01","value":-10},"value":-5}}}}}}},
{"data":{"values":[{}]},"mark":{"type":"text","font":"Liberation Sans","fontSize":17,"align":"left","baseline":"middle","color":"black"},"encoding":{"x":{"datum":8.6,"axis":null},"y":{"datum":0.632,"axis":null},"text":{"value":"PbCu"}}}
]},
{"width":190.7,"height":190.7,"data":{"name":"gPb"},"resolve":{"axis":{"x":"independent","y":"independent"}},"layer":[
{"mark":{"type":"square","color":"black","opacity":1},"encoding":{"x":{"field":"E","type":"quantitative","scale":{"domain":[0,12],"nice":false,"zero":false},"axis":{"title":null,"values":[0,1,2,3,4,5,6,7,8,9,10,11,12],"labelExpr":"datum.value%5==0?datum.label:''","labelPadding":12,"encoding":{"ticks":{"y2":{"condition":{"test":"datum.value%5==0","value":-10},"value":-5}}}}},"y":{"field":"A","type":"quantitative","scale":{"domain":[0.02,1],"nice":false,"zero":false},"axis":{"title":null,"values":[0.05,0.1,0.15,0.2,0.25,0.3,0.35,0.4,0.45,0.5,0.55,0.6,0.65,0.7,0.75,0.8,0.85,0.9,0.95,1],"labelExpr":"abs(datum.value*5-round(datum.value*5))<0.01?format(datum.value,'~g'):''","labelPadding":8,"encoding":{"ticks":{"x2":{"condition":{"test":"abs(datum.value*5-round(datum.value*5))<0.01","value":10},"value":5}}}}},"size":{"condition":[{"test":"datum.w==3","value":10},{"test":"datum.w==2","value":6}],"value":3}}},
{"mark":{"type":"square","opacity":0},"encoding":{"x":{"field":"E","type":"quantitative","axis":{"orient":"top","title":null,"values":[0,1,2,3,4,5,6,7,8,9,10,11,12],"labels":false,"encoding":{"ticks":{"y2":{"condition":{"test":"datum.value%5==0","value":10},"value":5}}}}},"y":{"field":"A","type":"quantitative","axis":{"orient":"right","title":null,"values":[0.05,0.1,0.15,0.2,0.25,0.3,0.35,0.4,0.45,0.5,0.55,0.6,0.65,0.7,0.75,0.8,0.85,0.9,0.95,1],"labels":false,"encoding":{"ticks":{"x2":{"condition":{"test":"abs(datum.value*5-round(datum.value*5))<0.01","value":-10},"value":-5}}}}}}},
{"data":{"values":[{}]},"mark":{"type":"text","font":"Liberation Sans","fontSize":17,"align":"left","baseline":"middle","color":"black"},"encoding":{"x":{"datum":8.6,"axis":null},"y":{"datum":0.627,"axis":null},"text":{"value":"PbPb"}}}
]},
{"width":190.7,"height":190.7,"data":{"name":"ePb"},"resolve":{"axis":{"x":"independent","y":"independent"}},"layer":[
{"mark":{"type":"square","color":"black","opacity":1},"encoding":{"x":{"field":"E","type":"quantitative","scale":{"domain":[0,12],"nice":false,"zero":false},"axis":{"title":null,"values":[0,1,2,3,4,5,6,7,8,9,10,11,12],"labelExpr":"datum.value%5==0?datum.label:''","labelPadding":12,"encoding":{"ticks":{"y2":{"condition":{"test":"datum.value%5==0","value":-10},"value":-5}}}}},"y":{"field":"A","type":"quantitative","scale":{"domain":[0.02,1],"nice":false,"zero":false},"axis":{"title":null,"values":[0.05,0.1,0.15,0.2,0.25,0.3,0.35,0.4,0.45,0.5,0.55,0.6,0.65,0.7,0.75,0.8,0.85,0.9,0.95,1],"labels":false,"encoding":{"ticks":{"x2":{"condition":{"test":"abs(datum.value*5-round(datum.value*5))<0.01","value":10},"value":5}}}}},"size":{"condition":[{"test":"datum.w==3","value":10},{"test":"datum.w==2","value":6}],"value":3}}},
{"mark":{"type":"square","opacity":0},"encoding":{"x":{"field":"E","type":"quantitative","axis":{"orient":"top","title":null,"values":[0,1,2,3,4,5,6,7,8,9,10,11,12],"labels":false,"encoding":{"ticks":{"y2":{"condition":{"test":"datum.value%5==0","value":10},"value":5}}}}},"y":{"field":"A","type":"quantitative","axis":{"orient":"right","title":null,"values":[0.05,0.1,0.15,0.2,0.25,0.3,0.35,0.4,0.45,0.5,0.55,0.6,0.65,0.7,0.75,0.8,0.85,0.9,0.95,1],"labels":false,"encoding":{"ticks":{"x2":{"condition":{"test":"abs(datum.value*5-round(datum.value*5))<0.01","value":-10},"value":-5}}}}}}},
{"data":{"values":[{}]},"mark":{"type":"text","font":"Liberation Sans","fontSize":17,"align":"left","baseline":"middle","color":"black"},"encoding":{"x":{"datum":8.6,"axis":null},"y":{"datum":0.627,"axis":null},"text":{"value":"PbPb"}}}
]},
{"width":190.7,"height":190.7,"data":{"name":"aPb"},"resolve":{"axis":{"x":"independent","y":"independent"}},"layer":[
{"mark":{"type":"square","color":"black","opacity":1},"encoding":{"x":{"field":"E","type":"quantitative","scale":{"domain":[0,12],"nice":false,"zero":false},"axis":{"title":null,"values":[0,1,2,3,4,5,6,7,8,9,10,11,12],"labelExpr":"datum.value%5==0?datum.label:''","labelPadding":12,"encoding":{"ticks":{"y2":{"condition":{"test":"datum.value%5==0","value":-10},"value":-5}}}}},"y":{"field":"A","type":"quantitative","scale":{"domain":[0.02,1],"nice":false,"zero":false},"axis":{"title":null,"values":[0.05,0.1,0.15,0.2,0.25,0.3,0.35,0.4,0.45,0.5,0.55,0.6,0.65,0.7,0.75,0.8,0.85,0.9,0.95,1],"labels":false,"encoding":{"ticks":{"x2":{"condition":{"test":"abs(datum.value*5-round(datum.value*5))<0.01","value":10},"value":5}}}}},"size":{"condition":[{"test":"datum.w==3","value":10},{"test":"datum.w==2","value":6}],"value":3}}},
{"mark":{"type":"square","opacity":0},"encoding":{"x":{"field":"E","type":"quantitative","axis":{"orient":"top","title":null,"values":[0,1,2,3,4,5,6,7,8,9,10,11,12],"labels":false,"encoding":{"ticks":{"y2":{"condition":{"test":"datum.value%5==0","value":10},"value":5}}}}},"y":{"field":"A","type":"quantitative","axis":{"orient":"right","title":null,"values":[0.05,0.1,0.15,0.2,0.25,0.3,0.35,0.4,0.45,0.5,0.55,0.6,0.65,0.7,0.75,0.8,0.85,0.9,0.95,1],"labels":false,"encoding":{"ticks":{"x2":{"condition":{"test":"abs(datum.value*5-round(datum.value*5))<0.01","value":-10},"value":-5}}}}}}},
{"data":{"values":[{}]},"mark":{"type":"text","font":"Liberation Sans","fontSize":17,"align":"left","baseline":"middle","color":"black"},"encoding":{"x":{"datum":8.6,"axis":null},"y":{"datum":0.627,"axis":null},"text":{"value":"PbPb"}}},
{"data":{"values":[{}]},"mark":{"type":"text","font":"Liberation Sans","fontSize":24,"align":"right","baseline":"alphabetic","dx":-2,"dy":57,"color":"black"},"encoding":{"x":{"datum":12,"axis":null},"y":{"datum":0.02,"axis":null},"text":{"value":"(MeV)"}}},
{"data":{"values":[{}]},"mark":{"type":"text","font":"Liberation Sans","fontSize":16,"align":"right","baseline":"alphabetic","dx":-74,"dy":62,"color":"black"},"encoding":{"x":{"datum":12,"axis":null},"y":{"datum":0.02,"axis":null},"text":{"value":"pf"}}},
{"data":{"values":[{}]},"mark":{"type":"text","font":"Liberation Sans","fontSize":24,"align":"right","baseline":"alphabetic","dx":-87.3,"dy":57,"color":"black"},"encoding":{"x":{"datum":12,"axis":null},"y":{"datum":0.02,"axis":null},"text":{"value":"E/A"}}}
]}
]
}
